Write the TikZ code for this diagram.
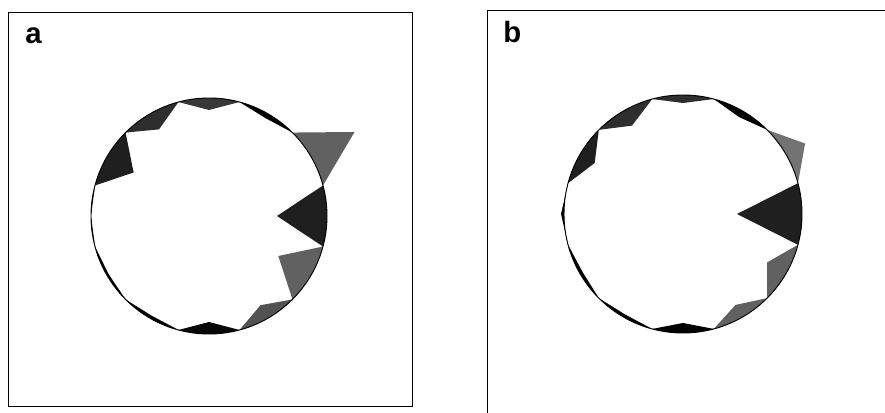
\documentclass[tikz,border=0pt]{standalone}
\usepackage{fontspec}
\setmainfont{Liberation Sans}
\usetikzlibrary{calc}

\begin{document}
\begin{tikzpicture}[
 x=0.75pt,y=0.75pt,
 frame/.style={draw=black,line width=0.6pt},
 rim/.style={draw=black,line width=0.7pt},
 panel/.style={font=\fontsize{22}{22}\selectfont\bfseries,inner sep=0pt,anchor=base west}
]
 \useasboundingbox (0,0) rectangle (885,413);
 % panel a
 \draw[frame] (8,7) rectangle (412,401);
 \node[panel] (lbla) at (25,369) {a};
 \coordinate (ca) at (209,197);
 \begin{scope}[shift={(ca)}]
  \foreach \ang/\rad/\shade in {90/106/78,60/113/100,30/168/62,0/68/88,-30/80/62,
     -60/103/68,-90/106/97,-120/115/100,-150/116/100,180/118/100,150/87/88,120/100/82}
   \fill[black!\shade] (\ang-15:118) -- (\ang:\rad) -- (\ang+15:118)
     arc[start angle=\ang+15,end angle=\ang-15,radius=118] -- cycle;
  \draw[rim] (0,0) circle[radius=118];
 \end{scope}
 % panel b
 \draw[frame] (487,0) -- (487,403) -- (885,403);
 \node[panel] (lblb) at (503,370) {b};
 \coordinate (cb) at (683,199);
 \begin{scope}[shift={(cb)}]
  \foreach \ang/\rad/\shade in {90/111/82,60/112/100,30/141/55,0/54/88,-30/97/62,
     -60/105/62,-90/109/100,-120/116/100,-150/116/100,180/122/100,150/102/88,120/102/82}
   \fill[black!\shade] (\ang-15:119) -- (\ang:\rad) -- (\ang+15:119)
     arc[start angle=\ang+15,end angle=\ang-15,radius=119] -- cycle;
  \draw[rim] (0,0) circle[radius=119];
 \end{scope}
\end{tikzpicture}
\end{document}
